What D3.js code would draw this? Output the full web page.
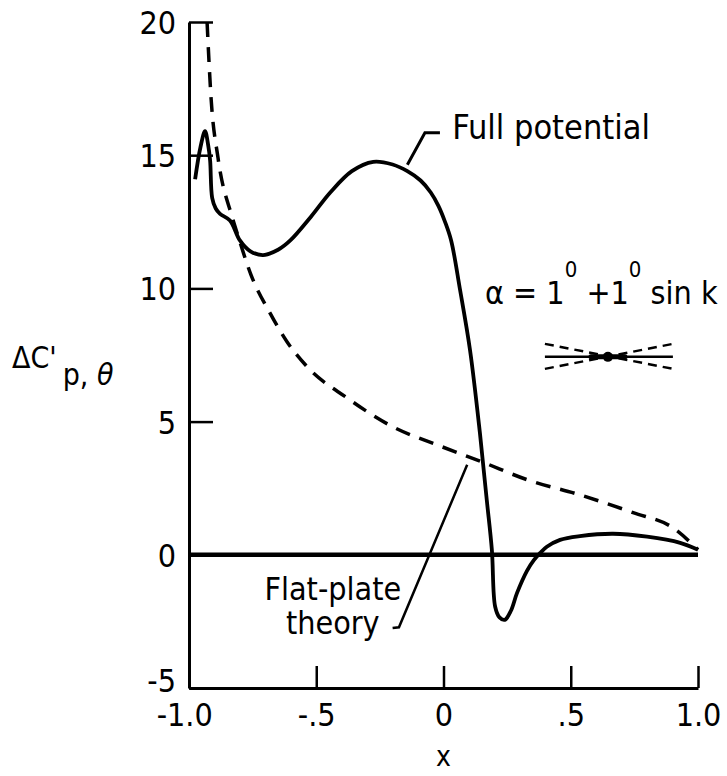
<!DOCTYPE html>
<html>
<head>
<meta charset="utf-8">
<script src="https://cdn.jsdelivr.net/npm/d3@7"></script>
<style>
  body { margin: 0; background: #fff; }
  text { font-family: "Liberation Sans Narrow", "DejaVu Sans Condensed", sans-serif; fill: #000; }
</style>
</head>
<body>
<script>
// flat-plate theory (dashed)
const flatX = [-0.929, -0.913, -0.886, -0.831, -0.81, -0.756, -0.682, -0.615, -0.536, -0.379, -0.198, -0.026, 0.151, 0.328, 0.536, 0.745, 0.902, 1.0];
const flatY = [20.0, 17.1, 14.9, 12.7, 12.05, 10.5, 9.08, 8.0, 7.06, 5.89, 4.8, 4.13, 3.49, 2.82, 2.25, 1.58, 1.01, 0.19];

// full potential (solid)
const fullX = [-0.976, -0.955, -0.937, -0.925, -0.917, -0.909, -0.895, -0.878, -0.839, -0.8, -0.76, -0.709, -0.65, -0.602, -0.52, -0.445, -0.36, -0.276, -0.2, -0.142, -0.09, -0.05, -0.02, 0.006, 0.03, 0.065, 0.104, 0.143, 0.17, 0.19, 0.203, 0.22, 0.241, 0.265, 0.289, 0.328, 0.355, 0.38, 0.406, 0.458, 0.536, 0.666, 0.8, 0.93, 1.0];
const fullY = [14.1, 15.3, 15.9, 15.4, 14.8, 13.4, 13.0, 12.8, 12.55, 11.8, 11.4, 11.25, 11.45, 11.8, 12.7, 13.6, 14.4, 14.75, 14.65, 14.4, 14.05, 13.6, 13.1, 12.5, 11.8, 9.95, 7.7, 4.58, 2.06, 0.19, -1.95, -2.35, -2.44, -2.1, -1.43, -0.6, -0.2, 0.07, 0.3, 0.56, 0.7, 0.79, 0.68, 0.45, 0.19];

const xTicks = [-1, -0.5, 0, 0.5, 1];
const xTickLabels = ["-1.0", "-.5", "0", ".5", "1.0"];
const yTicks = [-5, 0, 5, 10, 15, 20];
const yTickLabels = ["-5", "0", "5", "10", "15", "20"];

const width = 727, height = 776;

const svg = d3.select("body").append("svg")
    .attr("width", width)
    .attr("height", height);

const x = d3.scaleLinear().domain([-1, 1]).range([189, 698]);
const y = d3.scaleLinear().domain([-5, 20]).range([688, 22]);

// axes (ticks point inward)
const xAxis = svg.append("g")
    .attr("transform", `translate(0,${y(-5)})`)
    .call(d3.axisBottom(x)
        .tickValues(xTicks)
        .tickFormat((d, i) => xTickLabels[i])
        .tickSizeInner(-22)
        .tickSizeOuter(0)
        .tickPadding(15));

const yAxis = svg.append("g")
    .attr("transform", `translate(${x(-1)},0)`)
    .call(d3.axisLeft(y)
        .tickValues(yTicks)
        .tickFormat((d, i) => yTickLabels[i])
        .tickSizeInner(-24)
        .tickSizeOuter(0)
        .tickPadding(13));

svg.selectAll(".domain").attr("stroke", "#000").attr("stroke-width", 3);
svg.selectAll(".tick line").attr("stroke", "#000").attr("stroke-width", 2.5);
svg.selectAll(".tick text")
    .attr("font-size", 32)
    .attr("font-family", null)
    .attr("fill", "#000");
yAxis.selectAll(".tick text").attr("dy", "0.36em");
// bottom label sits a bit higher, as in the original
yAxis.select(".tick text").attr("dy", "0.12em");
xAxis.select(".tick text").attr("dx", "-0.15em");

// zero line
svg.append("line")
    .attr("x1", x(-1)).attr("x2", x(1))
    .attr("y1", y(0)).attr("y2", y(0))
    .attr("stroke", "#000")
    .attr("stroke-width", 4.5);

// curves
const dashLine = d3.line()
    .x(d => x(d[0]))
    .y(d => y(d[1]))
    .curve(d3.curveMonotoneX);

const solidLine = d3.line()
    .x(d => x(d[0]))
    .y(d => y(d[1]))
    .curve(d3.curveCatmullRom.alpha(0.5));

svg.append("path")
    .datum(flatX.map((v, i) => [v, flatY[i]]))
    .attr("d", dashLine)
    .attr("fill", "none")
    .attr("stroke", "#000")
    .attr("stroke-width", 3.5)
    .attr("stroke-dasharray", "15,10");

svg.append("path")
    .datum(fullX.map((v, i) => [v, fullY[i]]))
    .attr("d", solidLine)
    .attr("fill", "none")
    .attr("stroke", "#000")
    .attr("stroke-width", 3.8)
    .attr("stroke-linejoin", "round");

// annotations
const lead = d3.line().x(d => x(d[0])).y(d => y(d[1]));

svg.append("path")
    .attr("d", lead([[-0.142, 14.64], [-0.073, 15.84], [-0.014, 15.84]]))
    .attr("fill", "none").attr("stroke", "#000").attr("stroke-width", 3);

svg.append("text")
    .attr("x", x(0.034)).attr("y", y(15.6))
    .attr("font-size", 34)
    .text("Full potential");

svg.append("path")
    .attr("d", lead([[-0.2, -2.75], [-0.175, -2.72], [0.093, 3.38]]))
    .attr("fill", "none").attr("stroke", "#000").attr("stroke-width", 2.5);

const fp = svg.append("text")
    .attr("font-size", 32)
    .attr("text-anchor", "middle");
fp.append("tspan").attr("x", x(-0.435)).attr("y", y(-1.68)).text("Flat-plate");
fp.append("tspan").attr("x", x(-0.435)).attr("y", y(-2.98)).text("theory");

// alpha label
const al = svg.append("text")
    .attr("x", x(0.163)).attr("y", y(9.4))
    .attr("font-size", 32);
al.append("tspan").text("α = 1");
al.append("tspan").attr("dy", -27).attr("font-size", 22).text("0");
al.append("tspan").attr("dy", 27).text(" +1");
al.append("tspan").attr("dy", -27).attr("font-size", 22).text("0");
al.append("tspan").attr("dy", 27).text(" sin k");

// small airfoil sketch
const icon = svg.append("g")
    .attr("transform", `translate(${x(0.646)},${y(7.43)})`);
icon.append("line").attr("x1", -63).attr("x2", 65).attr("y1", 0).attr("y2", 0)
    .attr("stroke", "#000").attr("stroke-width", 2.5);
icon.append("line").attr("x1", -63).attr("x2", 65).attr("y1", -13).attr("y2", 12)
    .attr("stroke", "#000").attr("stroke-width", 2.5).attr("stroke-dasharray", "9,6");
icon.append("line").attr("x1", -63).attr("x2", 65).attr("y1", 12).attr("y2", -13)
    .attr("stroke", "#000").attr("stroke-width", 2.5).attr("stroke-dasharray", "9,6");
icon.append("line").attr("x1", -17).attr("x2", 17).attr("y1", 0).attr("y2", 0)
    .attr("stroke", "#000").attr("stroke-width", 5).attr("stroke-linecap", "round");
icon.append("circle").attr("r", 5).attr("fill", "#000");

// axis titles
const yl = svg.append("text")
    .attr("x", 12).attr("y", 368)
    .attr("font-size", 30);
yl.append("tspan").text("ΔC'");
yl.append("tspan").attr("dx", 6).attr("dy", 17).text("p, ");
yl.append("tspan").attr("font-style", "italic").text("θ");

svg.append("text")
    .attr("x", x(0)).attr("y", 766)
    .attr("text-anchor", "middle")
    .attr("font-size", 28)
    .text("x");
</script>
</body>
</html>
